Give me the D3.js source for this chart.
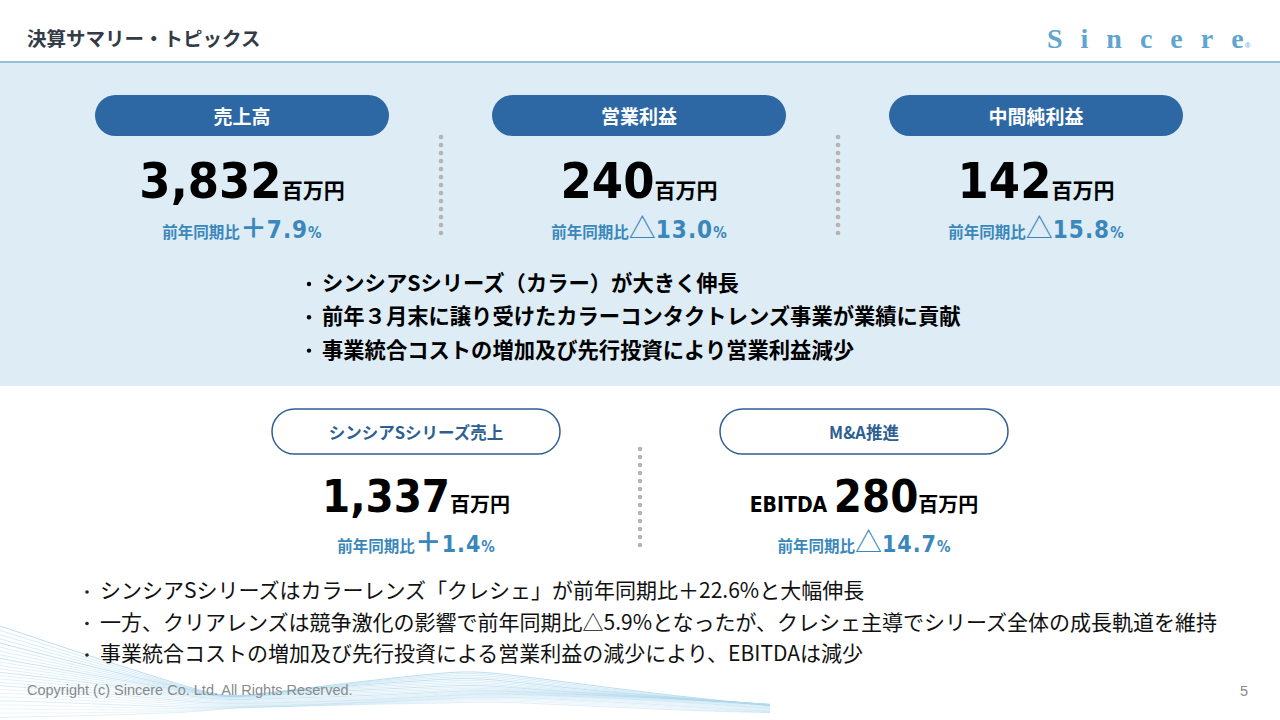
<!DOCTYPE html>
<html>
<head>
<meta charset="utf-8">
<script src="https://cdn.jsdelivr.net/npm/d3@7"></script>
<style>
  html, body { margin: 0; padding: 0; background: #fff; }
  svg { display: block; }
</style>
</head>
<body>
<div id="slide"></div>
<script>
// Headline figures (百万円) and year-on-year change.
const topLabels = ["売上高", "営業利益", "中間純利益"];
const topValues = [3832, 240, 142];
const topSigns = ["＋", "△", "△"];
const topChanges = [7.9, 13.0, 15.8];
const topNotes = [
  "シンシアSシリーズ（カラー）が大きく伸長",
  "前年３月末に譲り受けたカラーコンタクトレンズ事業が業績に貢献",
  "事業統合コストの増加及び先行投資により営業利益減少"
];

const bottomLabels = ["シンシアSシリーズ売上", "M&A推進"];
const bottomPrefixes = ["", "EBITDA "];
const bottomValues = [1337, 280];
const bottomSigns = ["＋", "△"];
const bottomChanges = [1.4, 14.7];
const bottomNotes = [
  "シンシアSシリーズはカラーレンズ「クレシェ」が前年同期比＋22.6%と大幅伸長",
  "一方、クリアレンズは競争激化の影響で前年同期比△5.9%となったが、クレシェ主導でシリーズ全体の成長軌道を維持",
  "事業統合コストの増加及び先行投資による営業利益の減少により、EBITDAは減少"
];

const width = 1280;
const height = 720;

const JP = "'Noto Sans CJK JP', 'Noto Sans', sans-serif";
const NUM = "'DejaVu Sans Condensed', 'DejaVu Sans', sans-serif";
const navy = "#2e68a4";
const accent = "#3a87bb";

const fmtValue = d3.format(",");
const fmtChange = d3.format(".1f");

const svg = d3.select("#slide")
  .append("svg")
    .attr("width", width)
    .attr("height", height);

// Decorative fan of strands in the bottom-left corner (pure ornament).
const waves = svg.append("g");
const waveLine = d3.line().curve(d3.curveBasis);
const centre = d3.scaleLinear().domain([0, 220, 480, 780]).range([672, 702, 688, 708]);
const spread = d3.scaleLinear().domain([0, 230, 460, 780]).range([46, 5, 16, 3]);
const fade = d3.scaleLinear().domain([0, 24]).range([0.75, 0.35]);
d3.range(25).forEach(i => {
  const k = i / 24 * 2 - 1;
  const pts = d3.range(-10, 791, 30).map(x =>
    [x, centre(x) + k * spread(x) + Math.sin(x / 90 + i * 0.25) * 2]);
  waves.append("path")
    .attr("d", waveLine(pts))
    .attr("fill", "none")
    .attr("stroke", i % 4 ? "#b9ddef" : "#8ec8e6")
    .attr("stroke-opacity", fade(i))
    .attr("stroke-width", 0.8);
});

// Header
svg.append("text")
    .attr("x", 27)
    .attr("y", 46)
    .attr("font-family", JP)
    .attr("font-weight", 700)
    .attr("font-size", 19.5)
    .attr("fill", "#333b47")
    .text("決算サマリー・トピックス");

const logo = svg.append("text")
    .attr("x", 1047)
    .attr("y", 48)
    .attr("font-family", "'Liberation Serif', serif")
    .attr("font-weight", 700)
    .attr("fill", "#5ea6d0");
logo.append("tspan")
    .attr("font-size", 28)
    .attr("letter-spacing", 18)
    .text("Sincer");
logo.append("tspan")
    .attr("font-size", 28)
    .text("e");
logo.append("tspan")
    .attr("font-family", "'Liberation Sans', sans-serif")
    .attr("font-weight", 400)
    .attr("font-size", 8)
    .attr("dx", 1)
    .text("®");

svg.append("rect")
    .attr("x", 0).attr("y", 63)
    .attr("width", width).attr("height", 323)
    .attr("fill", "#ddecf5");
svg.append("line")
    .attr("x1", 0).attr("x2", width)
    .attr("y1", 62).attr("y2", 62)
    .attr("stroke", "#8fbfd9")
    .attr("stroke-width", 2);

// Column positions
const xTop = d3.scalePoint().domain(d3.range(topLabels.length)).range([242, 1036]);
const xBottom = d3.scalePoint().domain(d3.range(bottomLabels.length)).range([416, 864]);

function dots(g, x, y0, y1) {
  g.append("g")
    .selectAll("circle")
    .data(d3.range(y0, y1 + 0.1, 8))
    .join("circle")
      .attr("cx", x)
      .attr("cy", d => d)
      .attr("r", 2.3)
      .attr("fill", "#b3b3b3");
}

function changeLine(g, y, sign, change, size) {
  const t = g.append("text")
      .attr("x", 0)
      .attr("y", y)
      .attr("text-anchor", "middle")
      .attr("fill", accent)
      .attr("font-weight", 700);
  t.append("tspan")
      .attr("font-family", JP)
      .attr("font-size", 15.5)
      .text("前年同期比");
  if (sign === "△") {
    t.append("tspan")
        .attr("font-family", JP)
        .attr("font-weight", 400)
        .attr("font-size", 27)
        .text("△");
  } else {
    t.append("tspan")
        .attr("font-family", JP)
        .attr("font-size", 27)
        .text("＋");
  }
  t.append("tspan")
      .attr("font-family", NUM)
      .attr("font-size", size)
      .attr("letter-spacing", 1)
      .text(fmtChange(change));
  t.append("tspan")
      .attr("font-family", NUM)
      .attr("font-size", 15)
      .text("%");
  return t;
}

// Top KPI blocks
const topBlocks = svg.append("g");
topLabels.forEach((label, i) => {
  const g = topBlocks.append("g").attr("transform", `translate(${xTop(i)},0)`);
  g.append("rect")
      .attr("x", -147).attr("y", 95)
      .attr("width", 294).attr("height", 41)
      .attr("rx", 20.5)
      .attr("fill", navy);
  g.append("text")
      .attr("y", 124)
      .attr("text-anchor", "middle")
      .attr("font-family", JP)
      .attr("font-weight", 700)
      .attr("font-size", 19)
      .attr("fill", "#fff")
      .text(label);

  const v = g.append("text")
      .attr("y", 198)
      .attr("text-anchor", "middle")
      .attr("font-weight", 700)
      .attr("fill", "#000");
  v.append("tspan")
      .attr("font-family", NUM)
      .attr("font-size", 50)
      .text(fmtValue(topValues[i]));
  v.append("tspan")
      .attr("font-family", JP)
      .attr("font-size", 21)
      .text("百万円");

  changeLine(g, 238, topSigns[i], topChanges[i], 24);
});

dots(svg, 441, 137, 233);
dots(svg, 838, 137, 233);

// Top notes
svg.append("g")
  .selectAll("g")
  .data(topNotes)
  .join("g")
    .attr("transform", (d, i) => `translate(0,${291 + i * 33.3})`)
    .call(g => g.append("circle")
      .attr("cx", 309).attr("cy", -7).attr("r", 2.2).attr("fill", "#000"))
    .call(g => g.append("text")
      .attr("x", 322)
      .attr("font-family", JP)
      .attr("font-weight", 700)
      .attr("font-size", 21.3)
      .attr("fill", "#000")
      .text(d => d));

// Bottom KPI blocks
const bottomBlocks = svg.append("g");
bottomLabels.forEach((label, i) => {
  const g = bottomBlocks.append("g").attr("transform", `translate(${xBottom(i)},0)`);
  g.append("rect")
      .attr("x", -144).attr("y", 409)
      .attr("width", 288).attr("height", 45)
      .attr("rx", 22.5)
      .attr("fill", "#fff")
      .attr("stroke", "#2e5f93")
      .attr("stroke-width", 1.5);
  g.append("text")
      .attr("y", 439)
      .attr("text-anchor", "middle")
      .attr("font-family", JP)
      .attr("font-weight", 700)
      .attr("font-size", 16.5)
      .attr("fill", "#2e5f93")
      .text(label);

  const v = g.append("text")
      .attr("y", 512)
      .attr("text-anchor", "middle")
      .attr("font-weight", 700)
      .attr("fill", "#000");
  if (bottomPrefixes[i]) {
    v.append("tspan")
        .attr("font-family", NUM)
        .attr("font-size", 21)
        .text(bottomPrefixes[i]);
  }
  v.append("tspan")
      .attr("font-family", NUM)
      .attr("font-size", 45)
      .text(fmtValue(bottomValues[i]));
  v.append("tspan")
      .attr("font-family", JP)
      .attr("font-size", 20)
      .text("百万円");

  changeLine(g, 552, bottomSigns[i], bottomChanges[i], 23);
});

dots(svg, 640, 449, 545);

// Bottom notes
svg.append("g")
  .selectAll("g")
  .data(bottomNotes)
  .join("g")
    .attr("transform", (d, i) => `translate(0,${598 + i * 31.5})`)
    .call(g => g.append("circle")
      .attr("cx", 87).attr("cy", -6).attr("r", 1.8).attr("fill", "#222"))
    .call(g => g.append("text")
      .attr("x", 100)
      .attr("font-family", JP)
      .attr("font-size", 21)
      .attr("fill", "#111")
      .text(d => d));

// Footer
svg.append("text")
    .attr("x", 27)
    .attr("y", 695)
    .attr("font-family", "'Liberation Sans', Arial, sans-serif")
    .attr("font-size", 14.5)
    .attr("fill", "#8a8a8a")
    .text("Copyright (c) Sincere Co. Ltd. All Rights Reserved.");
svg.append("text")
    .attr("x", 1240)
    .attr("y", 696)
    .attr("font-family", "'Liberation Sans', Arial, sans-serif")
    .attr("font-size", 14.5)
    .attr("fill", "#8a8a8a")
    .text("5");
</script>
</body>
</html>
